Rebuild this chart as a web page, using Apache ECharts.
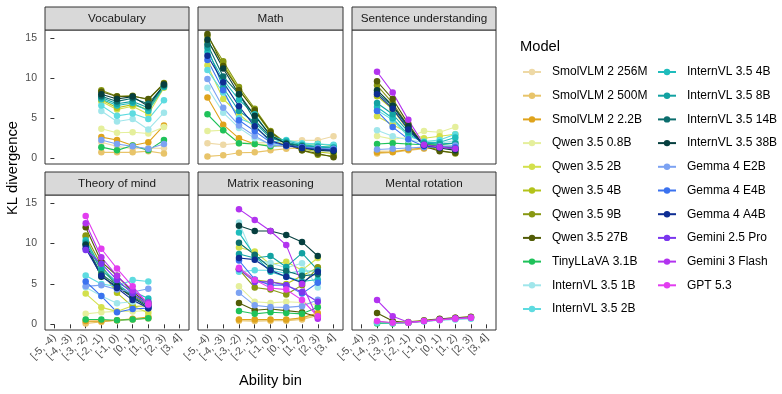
<!DOCTYPE html>
<html>
<head>
<meta charset="utf-8">
<script src="https://cdn.jsdelivr.net/npm/echarts@6/dist/echarts.min.js"></script>
<style>
  html, body { margin: 0; padding: 0; background: #fff; }
  #chart { width: 782px; height: 394px; }
</style>
</head>
<body>
<div id="chart"></div>
<script>
// ability bins on the x axis
var bins = ['[-5, -4)', '[-4, -3)', '[-3, -2)', '[-2, -1)', '[-1, 0)', '[0, 1)', '[1, 2)', '[2, 3)', '[3, 4]']
var yTicks = [0, 5, 10, 15]

var models = [
  'SmolVLM 2 256M', 'SmolVLM 2 500M', 'SmolVLM 2 2.2B',
  'Qwen 3.5 0.8B', 'Qwen 3.5 2B', 'Qwen 3.5 4B', 'Qwen 3.5 9B', 'Qwen 3.5 27B',
  'TinyLLaVA 3.1B',
  'InternVL 3.5 1B', 'InternVL 3.5 2B', 'InternVL 3.5 4B', 'InternVL 3.5 8B', 'InternVL 3.5 14B', 'InternVL 3.5 38B',
  'Gemma 4 E2B', 'Gemma 4 E4B', 'Gemma 4 A4B',
  'Gemini 2.5 Pro', 'Gemini 3 Flash', 'GPT 5.3'
]
var colors = [
  '#eed9a6', '#e8c46a', '#dfa31c',
  '#e5ef9c', '#d3e04c', '#b3c31a', '#889812', '#525c06',
  '#1fc25a',
  '#a0e6eb', '#5edbe0', '#1fbcbc', '#12a2a2', '#0b6d6d', '#063f3f',
  '#7ca2f2', '#3b72ef', '#0e2d93',
  '#7b36ee', '#b233ef', '#e23df0'
]

var panels = ['Vocabulary', 'Math', 'Sentence understanding', 'Theory of mind', 'Matrix reasoning', 'Mental rotation']
// first bin index of each panel
var panelStart = [3, 0, 1, 2, 2, 1]

// rows follow the models order, null = model not shown in that panel
var vocabulary = [
  [2.0, 1.5, 1.2, 1.3, 1.25],
  [0.75, 0.75, 0.75, 0.9, 0.6],
  [2.65, 2.3, 1.6, 2.0, 4.1],
  [3.7, 3.2, 3.25, 3.1, 3.9],
  [7.1, 6.1, 6.5, 5.5, 8.8],
  [7.3, 6.3, 6.7, 6.1, 8.9],
  [8.5, 7.75, 7.8, 7.3, 9.4],
  [8.3, 7.7, 7.75, 7.4, 9.3],
  [1.4, 1.0, 1.6, 1.0, 2.3],
  [5.9, 4.6, 4.9, 3.6, 5.7],
  [6.6, 5.3, 5.6, 4.9, 7.25],
  [7.4, 6.6, 6.9, 5.9, 8.9],
  [7.6, 6.8, 7.1, 6.3, 9.0],
  [7.75, 7.1, 7.5, 6.8, 9.1],
  [8.0, 7.4, 7.7, 6.5, 9.2],
  [2.3, 1.8, 1.5, 1.2, 1.8],
  null, null, null, null, null
]
var math = [
  [1.9, 1.7, 1.9, 1.9, 2.0, 2.1, 2.25, 2.25, 2.75],
  [0.25, 0.4, 0.7, 0.75, 1.0, 1.2, 1.3, 1.3, 1.1],
  [7.6, 4.2, 2.5, 1.8, 1.6, 1.5, 1.4, 1.3, 1.2],
  [3.4, 3.5, 1.9, 1.8, 1.7, 1.6, 1.5, 1.5, 1.4],
  [11.6, 7.4, 5.5, 3.9, 2.3, 1.7, 1.4, 1.2, 1.0],
  [14.6, 11.8, 8.6, 5.9, 3.2, 1.8, 1.2, 0.8, 0.6],
  [15.25, 12.1, 8.9, 6.2, 3.4, 1.9, 1.0, 0.45, 0.3],
  [15.5, 11.5, 8.5, 6.0, 3.3, 1.8, 1.0, 0.6, 0.15],
  [5.5, 3.5, 1.9, 1.8, 1.5, 1.7, 1.8, 1.8, 1.6],
  [8.8, 5.7, 3.8, 2.5, 1.8, 1.6, 1.5, 1.4, 1.3],
  [11.0, 8.2, 5.0, 4.2, 2.0, 2.3, 1.9, 1.8, 1.7],
  [13.3, 9.8, 7.3, 5.5, 2.8, 2.2, 1.7, 1.5, 1.4],
  [13.8, 8.8, 5.9, 4.5, 2.5, 2.0, 1.6, 1.4, 1.3],
  [14.2, 10.2, 8.0, 4.75, 2.7, 1.9, 1.5, 1.2, 1.0],
  [14.8, 11.2, 8.0, 5.3, 2.9, 1.8, 1.3, 1.0, 0.9],
  [9.9, 6.3, 4.1, 2.8, 1.7, 1.5, 1.4, 1.3, 1.2],
  [12.25, 8.5, 4.75, 3.4, 2.0, 1.6, 1.4, 1.2, 1.1],
  [12.8, 9.5, 6.5, 4.0, 2.2, 1.6, 1.3, 1.1, 1.0],
  null, null, null
]
var sentence = [
  [0.9, 0.9, 1.1, 1.3, 1.4, 1.5],
  [0.6, 0.75, 1.0, 1.2, 1.3, 1.4],
  [0.75, 0.8, 1.1, 1.3, 1.4, 1.3],
  [2.8, 2.4, 2.6, 3.4, 3.25, 3.9],
  [5.25, 4.2, 3.2, 2.5, 2.75, 3.0],
  [7.75, 6.1, 3.5, 1.8, 1.6, 1.3],
  [9.1, 6.9, 4.0, 1.6, 1.0, 0.6],
  [9.6, 7.4, 4.3, 1.5, 0.9, 0.7],
  [1.8, 1.9, 1.8, 1.7, 1.7, 1.9],
  [3.5, 2.75, 2.3, 2.0, 1.9, 2.2],
  [6.0, 4.8, 2.75, 2.1, 2.3, 3.0],
  [6.4, 5.0, 3.0, 2.0, 2.0, 2.6],
  [6.9, 5.5, 3.3, 1.9, 1.8, 1.9],
  [8.2, 6.5, 3.8, 1.7, 1.5, 1.2],
  [8.5, 6.6, 4.0, 1.6, 1.3, 1.0],
  [1.1, 1.2, 1.3, 1.4, 1.5, 1.6],
  [5.9, 3.9, 2.4, 1.5, 1.4, 1.4],
  [8.0, 6.2, 3.6, 1.6, 1.4, 1.2],
  null,
  [10.8, 8.2, 4.8, 1.7, 1.4, 1.2],
  null
]
var theoryOfMind = [
  [0.3, 0.4, 0.5, 0.6, 0.7],
  [0.1, 0.3, 0.5, 0.6, 0.8],
  [0.4, 0.4, 0.5, 0.7, 0.9],
  [1.3, 1.5, 1.6, 1.6, 1.7],
  [3.8, 2.1, 1.6, 2.3, 1.4],
  [10.85, 6.5, 3.9, 2.2, 2.3],
  [11.0, 7.3, 4.6, 3.5, 2.5],
  [12.0, 7.75, 6.0, 4.0, 2.6],
  [0.6, 0.6, 0.5, 0.6, 0.75],
  [4.6, 3.5, 2.6, 2.8, 2.2],
  [6.05, 5.0, 4.7, 5.5, 5.3],
  [10.4, 7.0, 5.2, 4.1, 3.2],
  [10.1, 6.7, 5.0, 3.6, 2.8],
  [9.9, 6.2, 4.85, 3.4, 2.3],
  [9.8, 5.9, 4.7, 3.3, 2.1],
  [4.7, 4.85, 4.3, 4.0, 4.4],
  [5.3, 3.5, 1.5, 1.9, 2.0],
  [9.4, 6.0, 4.5, 3.0, 2.0],
  [9.2, 7.5, 5.5, 3.8, 2.4],
  [12.5, 8.3, 6.0, 4.2, 2.7],
  [13.4, 9.35, 6.9, 4.7, 2.5]
]
var matrix = [
  [0.55, 0.5, 0.5, 0.55, 0.7, 1.2],
  [0.45, 0.4, 0.45, 0.45, 0.6, 1.1],
  [0.6, 0.6, 0.6, 0.6, 0.8, 1.4],
  [4.7, 2.8, 2.65, 2.8, 2.7, 2.4],
  [9.5, 9.0, 7.4, 7.75, 6.7, 8.2],
  [6.8, 5.5, 5.25, 5.0, 6.0, 7.0],
  [6.8, 4.55, 4.3, 3.7, 4.85, 7.05],
  [2.65, 1.75, 1.9, 1.7, 1.5, 0.9],
  [1.65, 1.3, 1.5, 1.4, 1.3, 2.1],
  [12.6, 8.0, 7.6, 7.0, 7.55, 4.55],
  [6.5, 6.7, 6.7, 6.3, 6.6, 6.6],
  [11.35, 8.5, 6.5, 5.9, 5.3, 5.55],
  [8.7, 8.2, 8.45, 7.1, 8.8, 6.7],
  [10.1, 8.6, 7.0, 6.6, 6.0, 6.2],
  [12.2, 11.55, 11.55, 11.05, 10.2, 8.45],
  [3.9, 2.35, 2.15, 2.1, 2.25, 3.05],
  [7.9, 5.55, 4.85, 4.85, 3.8, 5.15],
  [8.2, 8.0, 6.7, 5.9, 5.15, 6.5],
  [6.8, 5.25, 5.25, 4.85, 4.0, 2.8],
  [14.25, 12.9, 11.55, 9.8, 5.0, 0.7],
  [7.0, 5.5, 4.5, 4.3, 3.0, 1.0]
]
var mentalRotation = [
  null, null, null, null, null,
  null,
  [0.3, 0.2, 0.3, 0.5, 0.7, 0.8, 0.95],
  [1.4, 0.4, 0.2, 0.45, 0.65, 0.8, 0.9],
  null,
  null,
  [0.2, 0.15, 0.2, 0.35, 0.5, 0.6, 0.7],
  null, null, null, null, null, null, null, null,
  [3.0, 1.0, 0.25, 0.4, 0.6, 0.75, 0.85],
  [0.4, 0.2, 0.2, 0.4, 0.55, 0.7, 0.8]
]
var tinyRotation = [0.1, 0.1, 0.2, 0.4, 0.55, 0.7, 0.8]

var panelData = [vocabulary, math, sentence, theoryOfMind, matrix, mentalRotation]

var chart = echarts.init(document.getElementById('chart'))

var colX = [45, 198, 352]
var colW = [144, 145, 144]
var rowY = [30, 195]
var rowH = [134, 135]
var stripH = 23

var grid = []
var xAxis = []
var yAxis = []
var series = []
var graphic = []

for (var p = 0; p < panels.length; p++) {
  var col = p % 3
  var row = Math.floor(p / 3)
  grid.push({
    left: colX[col], top: rowY[row], width: colW[col], height: rowH[row],
    show: true, borderColor: '#333333', borderWidth: 1, backgroundColor: '#fff'
  })
  xAxis.push({
    type: 'value', gridIndex: p, min: -0.6, max: 8.6,
    splitLine: { show: false },
    axisLine: { show: false },
    axisTick: {
      show: row === 1, customValues: [0, 1, 2, 3, 4, 5, 6, 7, 8], length: 4,
      lineStyle: { color: '#333333' }
    },
    axisLabel: {
      show: row === 1, customValues: [0, 1, 2, 3, 4, 5, 6, 7, 8],
      rotate: 45, margin: 6, fontSize: 10.5, color: '#4d4d4d',
      formatter: function (v) { return bins[Math.round(v)] }
    }
  })
  yAxis.push({
    type: 'value', gridIndex: p, min: -0.7, max: 16.0,
    splitLine: { show: false },
    axisLine: { show: false },
    axisTick: {
      show: col === 0, customValues: yTicks, length: 4,
      lineStyle: { color: '#333333' }
    },
    axisLabel: {
      show: col === 0, customValues: yTicks, margin: 8, fontSize: 10.5, color: '#4d4d4d'
    }
  })
  // facet strip
  graphic.push({
    type: 'rect',
    shape: { x: colX[col], y: rowY[row] - stripH, width: colW[col], height: stripH },
    style: { fill: '#d9d9d9', stroke: '#333333', lineWidth: 1 }
  })
  graphic.push({
    type: 'text',
    style: {
      x: colX[col] + colW[col] / 2, y: rowY[row] - stripH / 2,
      text: panels[p], fill: '#1a1a1a', font: '11.7px "Liberation Sans"',
      textAlign: 'center', textVerticalAlign: 'middle'
    }
  })

  var rows = panelData[p]
  for (var m = 0; m < models.length; m++) {
    var vals = rows[m]
    if (p === 5 && m === 8) vals = tinyRotation
    if (!vals) continue
    var pts = vals.map(function (v, i) { return [panelStart[p] + i, v] })
    series.push({
      name: models[m], type: 'line', xAxisIndex: p, yAxisIndex: p,
      data: pts, symbol: 'circle', symbolSize: 6.5, showSymbol: true,
      color: colors[m], lineStyle: { width: 1.1 },
      emphasis: { disabled: true }, silent: true, animation: false
    })
  }
}

graphic.push({
  type: 'text', rotation: Math.PI / 2, x: 13, y: 168,
  style: { text: 'KL divergence', fill: '#000', font: '14.7px "Liberation Sans"', textAlign: 'center', textVerticalAlign: 'middle' }
})
graphic.push({
  type: 'text',
  style: { x: 270.5, y: 381, text: 'Ability bin', fill: '#000', font: '14.7px "Liberation Sans"', textAlign: 'center', textVerticalAlign: 'middle' }
})
graphic.push({
  type: 'text',
  style: { x: 520, y: 47, text: 'Model', fill: '#000', font: '14.7px "Liberation Sans"', textAlign: 'left', textVerticalAlign: 'middle' }
})

var legendBase = {
  orient: 'vertical', itemWidth: 18, itemHeight: 8, itemGap: 11.7,
  padding: 0, selectedMode: false,
  textStyle: { fontSize: 12, color: '#000', padding: [0, 0, 0, 6] }
}
var legend = [
  Object.assign({}, legendBase, { left: 522, top: 66, data: models.slice(0, 11) }),
  Object.assign({}, legendBase, { left: 657, top: 66, data: models.slice(11) })
]

chart.setOption({
  animation: false,
  textStyle: { fontFamily: 'Liberation Sans' },
  grid: grid,
  xAxis: xAxis,
  yAxis: yAxis,
  legend: legend,
  graphic: graphic,
  series: series
})
</script>
</body>
</html>
